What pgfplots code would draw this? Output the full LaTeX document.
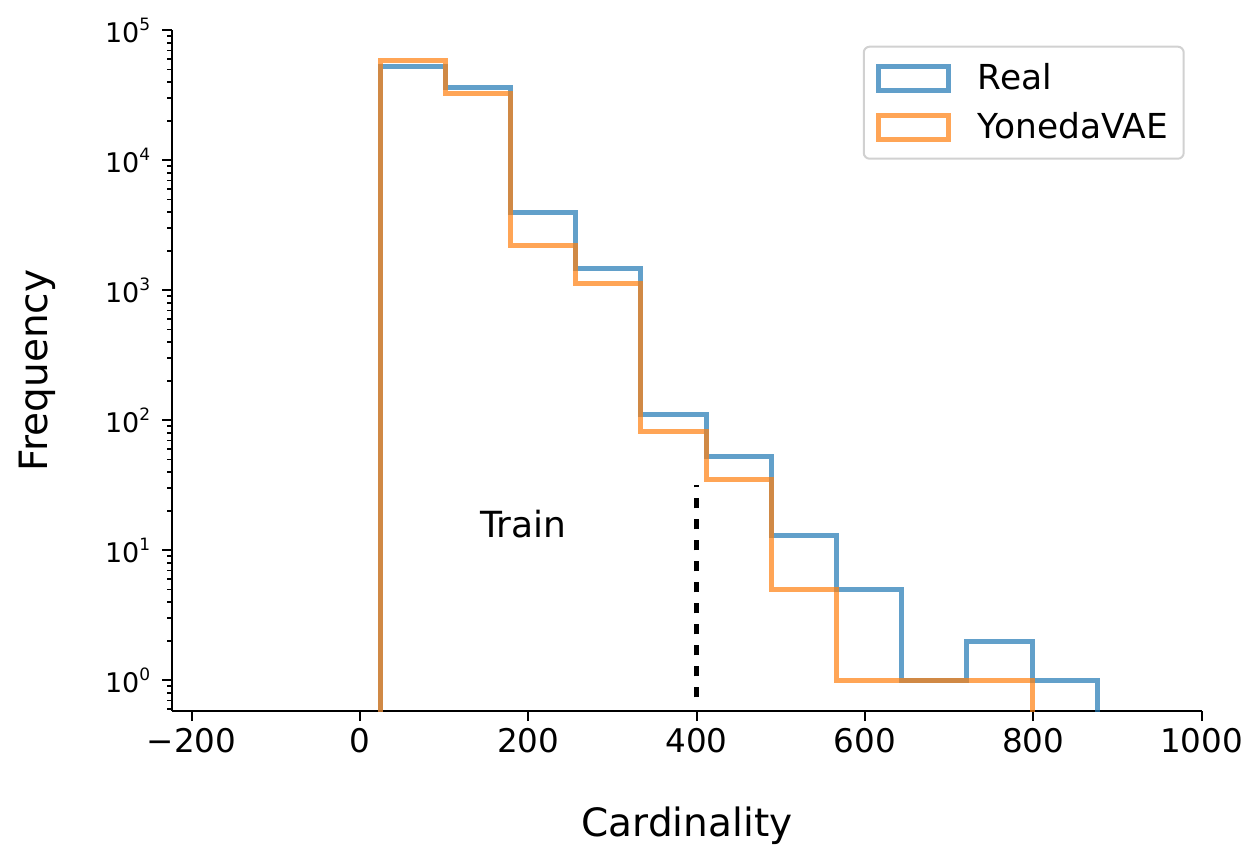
\documentclass[border=0pt]{standalone}
\usepackage{fontspec}
\setmainfont{DejaVu Sans}
\usepackage{pgfplots}
\pgfplotsset{compat=1.18}
\usepackage{pgfplotstable}
\definecolor{tabblue}{HTML}{1F77B4}
\definecolor{taborange}{HTML}{FF7F0E}
\newcommand\tsup[1]{\raisebox{5.8pt}{\fontsize{8.5}{9}\selectfont #1}}

% step histogram outlines: (left edge, count) pairs, drawn with const plot
\pgfplotstableread{
x y
23.8 0.01
23.8 53100
101.3 36000
178.7 4000
256.2 1480
333.7 110
411.2 53
488.6 13
566.1 5
643.6 1
721.0 2
798.5 1
876.0 0.01
}\real
\pgfplotstableread{
x y
23.8 0.01
23.8 58800
101.3 32600
178.7 2220
256.2 1130
333.7 82
411.2 35
488.6 5
566.1 1
643.6 1
721.0 1
798.5 0.01
}\yoneda

\begin{document}
\begin{tikzpicture}
\begin{axis}[
  scale only axis,
  width=514.65pt, height=340.5pt,
  ymode=log,
  xmin=-223, xmax=1000,
  ymin=0.58, ymax=1.005e5,
  axis x line*=bottom, axis y line*=left,
  axis line style={line width=1pt, black},
  tick align=outside,
  major tick length=5pt, minor tick length=2.5pt,
  every tick/.style={black, line width=1pt},
  minor tick style={line width=0.8pt},
  xtick={-200,0,200,400,600,800,1000},
  xticklabels={−200,0,200,400,600,800,1000},
  ytick={1,10,100,1000,10000,100000},
  yticklabels={10\tsup{0},10\tsup{1},10\tsup{2},10\tsup{3},10\tsup{4},10\tsup{5}},
  minor ytick={0.6,0.7,0.8,0.9,2,3,4,5,6,7,8,9,20,30,40,50,60,70,80,90,200,300,400,500,600,700,800,900,2000,3000,4000,5000,6000,7000,8000,9000,20000,30000,40000,50000,60000,70000,80000,90000},
  xticklabel style={font=\fontsize{16.3}{18}\selectfont},
  yticklabel style={font=\fontsize{13.5}{15}\selectfont, xshift=-2.5pt},
  xlabel={Cardinality},
  ylabel={Frequency},
  xlabel style={font=\fontsize{19.5}{22}\selectfont, at={(axis description cs:0.5,-0.184)}, anchor=base},
  ylabel style={font=\fontsize{19.5}{22}\selectfont, at={(axis description cs:-0.1208,0.5)}, anchor=base, rotate=0},
  legend image code/.code={\draw[#1, sharp corners, line width=2.5pt] (0pt,-6pt) rectangle (35pt,6pt);},
  legend cell align=left,
  legend style={at={(0.9836,0.977)}, anchor=north east,
    draw=black!18, line width=1pt, rounded corners=3pt,
    fill=white, fill opacity=0.8, text opacity=1,
    inner xsep=6pt, inner ysep=6.5pt, row sep=5.9pt,
    font=\fontsize{17.2}{20}\selectfont,
    nodes={inner sep=2pt, text opacity=1},
    /tikz/every odd column/.append style={column sep=11.5pt}},
]
\addplot[const plot, draw=tabblue, draw opacity=0.7, line width=2.5pt, line join=miter, no markers] table[x=x, y=y] {\real};
\addlegendentry{Real}
\addplot[const plot, draw=taborange, draw opacity=0.7, line width=2.5pt, line join=miter, no markers] table[x=x, y=y] {\yoneda};
\addlegendentry{YonedaVAE}
\addplot[forget plot, black, line width=2.8pt, dash pattern=on 5pt off 5.5pt] coordinates {(400,0.74) (400,32)};
\node[anchor=base, font=\fontsize{18}{20}\selectfont] at (axis cs:194,12.6) {Train};
\coordinate (bl) at (rel axis cs:0,0);
\coordinate (tr) at (rel axis cs:1,1);
\end{axis}
\pgfresetboundingbox
\path ([xshift=-86.15pt, yshift=-67.65pt]bl) rectangle ([xshift=21.7pt, yshift=15pt]tr);
\end{tikzpicture}
\end{document}
